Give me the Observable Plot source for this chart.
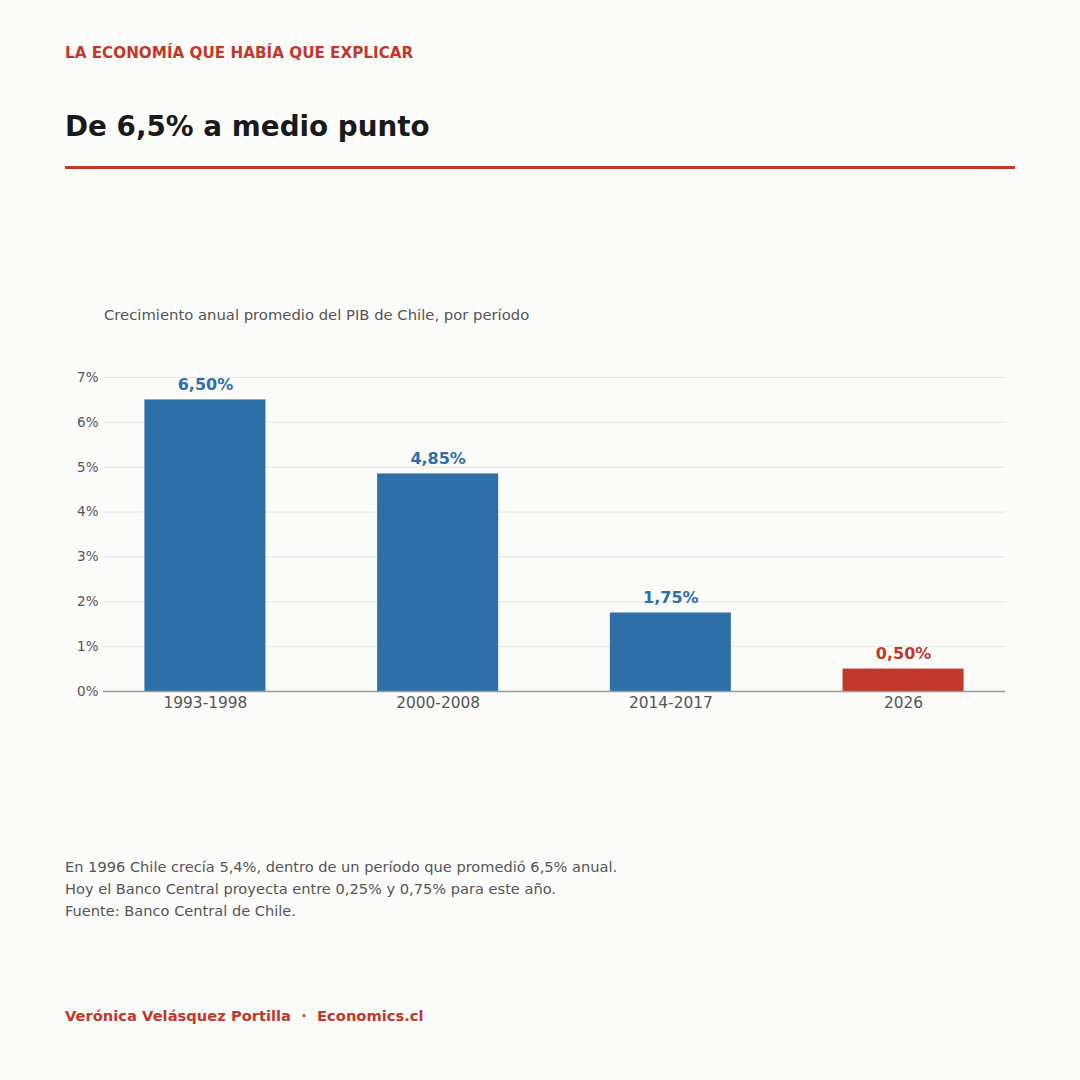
<!DOCTYPE html>
<html>
<head>
<meta charset="utf-8">
<script src="https://cdn.jsdelivr.net/npm/d3@7"></script>
<script src="https://cdn.jsdelivr.net/npm/@observablehq/plot@0.6"></script>
<style>
  html, body { margin: 0; padding: 0; background: #FBFBF9; }
  body { width: 1080px; height: 1080px; position: relative; overflow: hidden; font-family: "DejaVu Sans", sans-serif; }
  .abs { position: absolute; white-space: pre; }
  #kicker { left: 65px; top: 44px; font-size: 15.2px; font-weight: bold; color: #C0392B; line-height: 19px; }
  #title { left: 65px; top: 109px; font-size: 27.8px; font-weight: bold; color: #1a1a1a; line-height: 35px; }
  #rule { left: 65px; top: 166px; width: 950px; height: 3px; background: #C0392B; }
  #sub { left: 104px; top: 306px; font-size: 14.8px; color: #555; line-height: 18px; }
  #chart { left: 0; top: 340px; }
  #notes { left: 65px; top: 856px; font-size: 14.6px; color: #555; line-height: 22px; }
  #byline { left: 65px; top: 1006px; font-size: 14.7px; font-weight: bold; color: #C0392B; line-height: 20px; }
</style>
</head>
<body>
<div id="kicker" class="abs">LA ECONOMÍA QUE HABÍA QUE EXPLICAR</div>
<div id="title" class="abs">De 6,5% a medio punto</div>
<div id="rule" class="abs"></div>
<div id="sub" class="abs">Crecimiento anual promedio del PIB de Chile, por período</div>
<div id="chart" class="abs"></div>
<div id="notes" class="abs">En 1996 Chile crecía 5,4%, dentro de un período que promedió 6,5% anual.
Hoy el Banco Central proyecta entre 0,25% y 0,75% para este año.
Fuente: Banco Central de Chile.</div>
<div id="byline" class="abs">Verónica Velásquez Portilla  ·  Economics.cl</div>
<script>
const periods = ["1993-1998", "2000-2008", "2014-2017", "2026"];
const growth = [6.50, 4.85, 1.75, 0.50];
const yTicks = [0, 1, 2, 3, 4, 5, 6, 7];
const highlightPeriod = "2026";

const data = periods.map((p, i) => ({period: p, value: growth[i]}));
const BLUE = "#2E6FA7", RED = "#C0392B";
const fillOf = d => d.period === highlightPeriod ? RED : BLUE;
const fmt = v => v.toFixed(2).replace(".", ",") + "%";

const chart = Plot.plot({
  width: 1080,
  height: 391,
  marginTop: 37,
  marginBottom: 40,
  marginLeft: 103,
  marginRight: 75,
  style: {background: "transparent", fontFamily: "DejaVu Sans, sans-serif", color: "#555"},
  x: {domain: periods, paddingInner: 0.48, paddingOuter: 0.178, round: false, label: null},
  y: {domain: [0, 7], label: null},
  marks: [
    Plot.gridY(yTicks, {stroke: "#e6e6e6", strokeOpacity: 1, strokeWidth: 1}),
    Plot.barY(data, {x: "period", y: "value", fill: fillOf}),
    Plot.ruleY([0], {stroke: "#999", strokeWidth: 1.5}),
    Plot.text(data, {x: "period", y: "value", text: d => fmt(d.value), dy: -15, fill: fillOf, fontWeight: "bold", fontSize: 16}),
    Plot.axisY(yTicks, {tickSize: 0, tickPadding: 5, tickFormat: d => d + "%", fontSize: 13.5, fill: "#555", label: null}),
    Plot.axisX({tickSize: 0, tickPadding: 6, fontSize: 15.4, fill: "#555", label: null})
  ]
});
document.getElementById("chart").appendChild(chart);
</script>
</body>
</html>
